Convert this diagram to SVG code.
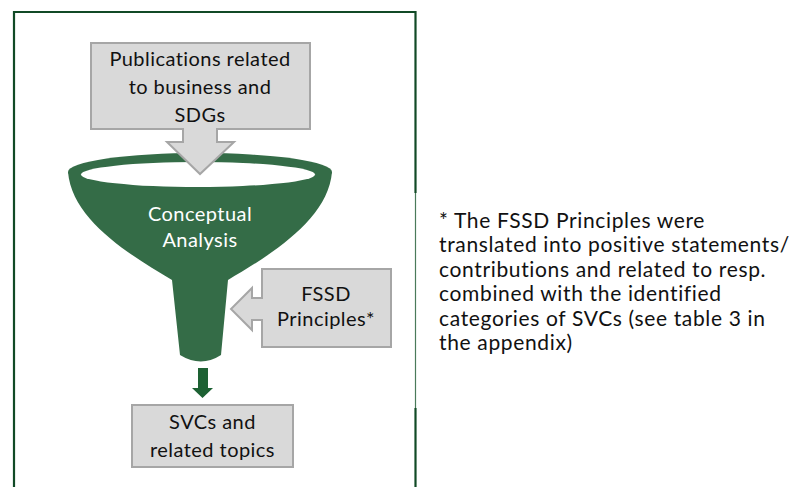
<svg xmlns="http://www.w3.org/2000/svg" width="790" height="487" viewBox="0 0 790 487">
<style>
.box{fill:#d9d9d9;stroke:#a6a6a6;stroke-width:2}
.t{font-family:Lato,"Liberation Sans",sans-serif;font-size:20px;letter-spacing:0.45px;fill:#111111;text-anchor:middle}
.w{fill:#ffffff}
.note{font-family:Lato,"Liberation Sans",sans-serif;font-size:21px;letter-spacing:0.65px;fill:#111111}
.funnel{fill:#346c47}
</style>
<rect width="790" height="487" fill="#ffffff"/>
<g id="frame">
<path d="M14,487 V12 H415.5 V193" fill="none" stroke="#114a26" stroke-width="2.2"/>
<path d="M415.5,193 V408" fill="none" stroke="#4a7a5a" stroke-width="1.2"/>
<path d="M415.5,408 V487" fill="none" stroke="#114a26" stroke-width="2.2"/>
</g>
<g id="funnel">
<ellipse class="funnel" cx="200" cy="172" rx="132" ry="19"/>
<path class="funnel" d="M68,172 C72,220 130,255 172,280 L180,355 Q201,368 221,355 L228,280 C270,255 328,220 332,172 Z"/>
<ellipse cx="198" cy="174.5" rx="117" ry="12.5" fill="#ffffff"/>
<text class="t w" x="200" y="221">Conceptual</text>
<text class="t w" x="200" y="246.5">Analysis</text>
</g>
<g id="publications">
<path class="box" d="M91,43 H310 V129 H217 V142 H234 L200,174 L167,142 H183 V129 H91 Z"/>
<text class="t" x="200" y="66">Publications related</text>
<text class="t" x="200" y="94">to business and</text>
<text class="t" x="200" y="121.5">SDGs</text>
</g>
<g id="fssd">
<path class="box" d="M262,269 H391 V347 H262 V320 H252 V330 L231,309 L252,288 V298 H262 Z"/>
<text class="t" x="326" y="301">FSSD</text>
<text class="t" x="326" y="325.5">Principles*</text>
</g>
<g id="connectors">
<path d="M198,368 H208 V388 H213 L202.5,398 L192,388 H198 Z" fill="#1d6133"/>
</g>
<g id="svcs">
<rect class="box" x="132" y="405" width="161" height="62"/>
<text class="t" x="212.5" y="429">SVCs and</text>
<text class="t" x="212.5" y="457">related topics</text>
</g>
<g id="note">
<text class="note" x="439" y="227.5">* The FSSD Principles were</text>
<text class="note" x="439" y="252">translated into positive statements/</text>
<text class="note" x="439" y="276.5">contributions and related to resp.</text>
<text class="note" x="439" y="301">combined with the identified</text>
<text class="note" x="439" y="325.5">categories of SVCs (see table 3 in</text>
<text class="note" x="439" y="350">the appendix)</text>
</g>
</svg>
